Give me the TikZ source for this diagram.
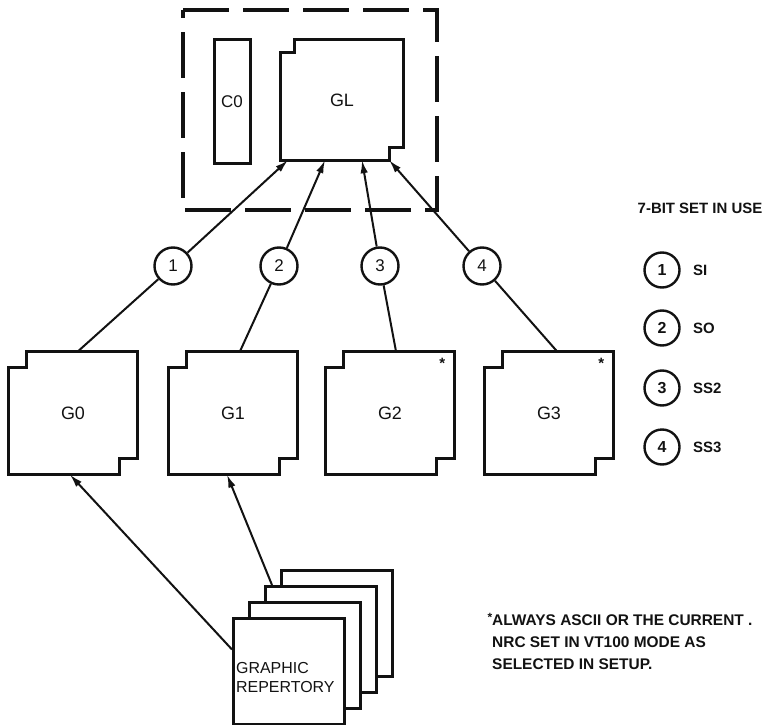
\documentclass[tikz,border=0pt]{standalone}
\usepackage{fontspec}
\setmainfont{Liberation Sans}
\usepackage{tikz}
\usetikzlibrary{arrows.meta,positioning,calc}
\definecolor{PrintInk}{RGB}{18, 18, 18}
\tikzset{
  frame/.style={draw=PrintInk, line width=3bp},
  setbox/.style={minimum width=128bp, minimum height=123bp, inner sep=0pt,
                 text=PrintInk, font=\fontsize{18}{18}\selectfont},
  selector/.style={circle, draw=PrintInk, line width=2.4bp, minimum size=37bp,
                   inner sep=0pt, text=PrintInk, font=\fontsize{17}{17}\selectfont},
  link/.style={draw=PrintInk, line width=2bp},
  invoke/.style={link, -{Latex[length=13bp,width=7.5bp]}},
  legend/.style={text=PrintInk, font=\fontsize{15}{22}\selectfont\bfseries},
}
% notched outline round a character set node: #1 node, #2 notch width, #3 notch height
\newcommand{\CharSetOutline}[3]{%
  \draw[frame] ([xshift=#2]#1.north west) -- (#1.north east)
    -- ([yshift=#3]#1.south east) -- ([xshift=-#2,yshift=#3]#1.south east)
    -- ([xshift=-#2]#1.south east) -- (#1.south west)
    -- ([yshift=-#3]#1.north west) -- ([xshift=#2,yshift=-#3]#1.north west) -- cycle;
}
\begin{document}
\begin{tikzpicture}[x=1bp, y=-1bp]
  \useasboundingbox (0,0) rectangle (766,725);
  % dashed frame round the in-use tables
  \draw[PrintInk, line width=4.2bp, dash pattern=on 46bp off 14bp]
    (183,10) -- (437,10) -- (437,210) -- (183,210) -- cycle;
  % C0 and GL
  \node[frame, minimum width=36bp, minimum height=123bp, inner sep=0pt,
        text=PrintInk, font=\fontsize{17}{17}\selectfont] (c0) at (232,101.5) {C0};
  \node[setbox, minimum width=122bp, minimum height=120bp] (gl) at (342,100) {GL};
  \CharSetOutline{gl}{14bp}{13bp}
  % G0 - G3
  \foreach \n/\x in {0/73, 1/233, 2/390, 3/549}{
    \node[setbox] (g\n) at (\x,413) {G\n};
    \CharSetOutline{g\n}{18bp}{16bp}
  }
  \node[text=PrintInk, font=\fontsize{15}{15}\selectfont\bfseries] (star2)
    at ([xshift=-12bp,yshift=-12bp]g2.north east) {*};
  \node[text=PrintInk, font=\fontsize{15}{15}\selectfont\bfseries] (star3)
    at ([xshift=-12bp,yshift=-12bp]g3.north east) {*};
  % shift selectors
  \foreach \n/\x in {1/173, 2/279, 3/380, 4/482}
    \node[selector] (s\n) at (\x,266) {\n};
  \draw[link]   ([xshift=5bp]g0.north) -- (s1);
  \draw[invoke] (s1) -- ([xshift=-54bp]gl.south);
  \draw[link]   ([xshift=7bp]g1.north) -- (s2);
  \draw[invoke] (s2) -- ([xshift=-17bp]gl.south);
  \draw[link]   ([xshift=6bp]g2.north) -- (s3);
  \draw[invoke] (s3) -- ([xshift=20bp]gl.south);
  \draw[link]   ([xshift=8bp]g3.north) -- (s4);
  \draw[invoke] (s4) -- ([xshift=-14bp]gl.south east);
  % graphic repertory stack, back to front
  \foreach \k/\x/\y in {4/280/569, 3/264/585, 2/248/601, 1/232/617}
    \node[frame, fill=white, minimum width=111bp, minimum height=106bp,
          inner sep=0pt, anchor=north west] (rep\k) at (\x,\y) {};
  \node[anchor=west, align=left, inner sep=0pt, text=PrintInk,
        font=\fontsize{16}{20}\selectfont] (replabel)
    at ([xshift=4bp,yshift=-6bp]rep1.west) {GRAPHIC\\REPERTORY};
  \draw[invoke] ([yshift=22bp]rep1.west) -- ([xshift=-3bp]g0.south);
  \draw[invoke] ([xshift=8bp]rep3.north west) -- ([xshift=-6bp]g1.south);
  % legend
  \node[legend] (legtitle) at (700,208) {7-BIT SET IN USE};
  \foreach \n/\y/\code in {1/270/SI, 2/328/SO, 3/388/SS2, 4/447/SS3}{
    \node[selector, minimum size=35bp, font=\fontsize{16}{16}\selectfont\bfseries]
      (key\n) at (662,\y) {\n};
    \node[legend, right=9bp of key\n] (code\n) {\code};
  }
  % footnote
  \node[legend, anchor=north west, align=left, inner sep=0pt,
        font=\fontsize{15.5}{22}\selectfont\bfseries] (note) at (492,613)
    {\llap{\raisebox{4bp}{\fontsize{12}{12}\selectfont *}}ALWAYS ASCII OR THE CURRENT .\\
     NRC SET IN VT100 MODE AS\\
     SELECTED IN SETUP.};
\end{tikzpicture}
\end{document}
